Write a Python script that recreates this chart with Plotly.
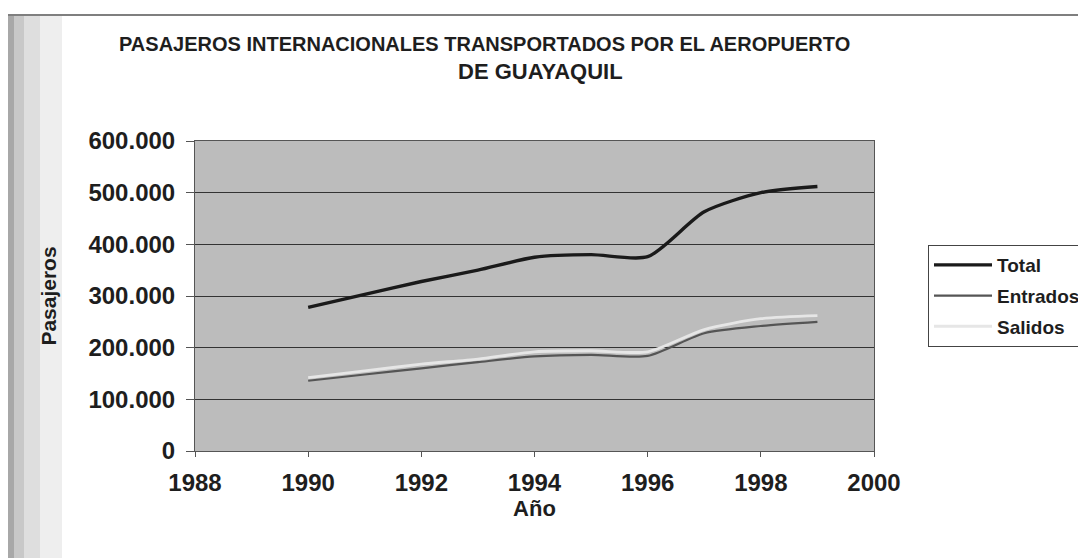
import plotly.graph_objects as go

years = [1990, 1991, 1992, 1993, 1994, 1995, 1996, 1997, 1998, 1999]
total = [278000, 303000, 328000, 350000, 375000, 380000, 376000, 463000, 500000, 512000]
entrados = [136000, 148000, 160000, 172000, 183000, 186000, 184000, 228000, 242000, 250000]
salidos = [142000, 155000, 168000, 178000, 192000, 194000, 192000, 235000, 256000, 262000]

y_ticks = [0, 100000, 200000, 300000, 400000, 500000, 600000]
y_labels = ["0", "100.000", "200.000", "300.000", "400.000", "500.000", "600.000"]
x_ticks = [1988, 1990, 1992, 1994, 1996, 1998, 2000]

title_line1 = "PASAJEROS INTERNACIONALES TRANSPORTADOS POR EL AEROPUERTO"
title_line2 = "DE GUAYAQUIL"

FONT = "Liberation Sans, Arial, sans-serif"
INK = "#1e1e1e"

# plot frame in page pixels (page has an 8px body offset)
OFF = 8
PL, PR, PT, PB = 195, 874, 141, 451
W, H = 1086, 558


def px(sx):
    return (sx - PL) / (PR - PL)


def py(sy):
    return (PB - sy) / (PB - PT)


fig = go.Figure()
fig.add_trace(go.Scatter(x=years, y=total, name="Total", mode="lines", legendgroup="t",
                         line=dict(color="#1a1a1a", width=3.4, shape="spline", smoothing=0.7)))
fig.add_trace(go.Scatter(x=years, y=entrados, name="Entrados", mode="lines", legendgroup="e",
                         line=dict(color="#555555", width=2.2, shape="spline", smoothing=0.7)))
fig.add_trace(go.Scatter(x=years, y=salidos, name="Salidos", mode="lines", legendgroup="s",
                         line=dict(color="#e6e6e6", width=2.8, shape="spline", smoothing=0.7)))

fig.update_layout(
    width=W, height=H,
    margin=dict(l=PL - OFF, r=W - (PR - OFF), t=PT - OFF, b=H - (PB - OFF), autoexpand=False),
    paper_bgcolor="#ffffff",
    plot_bgcolor="#bcbcbc",
    font=dict(family=FONT, color=INK),
    showlegend=True,
    legend=dict(xref="container", yref="container",
                x=(928 - OFF) / W, y=1 - (245 - OFF) / H, xanchor="left", yanchor="top",
                bgcolor="#ffffff", bordercolor="#444444", borderwidth=1,
                font=dict(size=19, family=FONT, color=INK, weight="bold"),
                tracegroupgap=3, itemwidth=58),
    xaxis=dict(range=[1988, 2000], tickvals=x_ticks, ticktext=[str(v) for v in x_ticks],
               showgrid=False, zeroline=False, showline=True, linecolor="#555555", linewidth=1,
               ticks="outside", ticklen=5, tickcolor="#555555", mirror=True, ticklabelstandoff=5,
               automargin=False,
               tickfont=dict(size=24, family=FONT, color=INK, weight="bold"),
               title=dict(text="Año", font=dict(size=22, family=FONT, color=INK, weight="bold"),
                          standoff=4)),
    yaxis=dict(range=[0, 600000], tickvals=y_ticks, ticktext=y_labels,
               showgrid=True, gridcolor="#333333", gridwidth=1, zeroline=False,
               showline=True, linecolor="#555555", linewidth=1, mirror=True,
               ticks="outside", ticklen=8, tickcolor="#555555", ticklabelstandoff=6,
               automargin=False,
               tickfont=dict(size=24, family=FONT, color=INK, weight="bold"),
               title=dict(text="Pasajeros", font=dict(size=21, family=FONT, color=INK, weight="bold"),
                          standoff=26)),
)

fig.add_annotation(text=title_line1, xref="paper", yref="paper", x=px(484), y=py(44),
                   xanchor="center", yanchor="middle", showarrow=False,
                   font=dict(size=20, family=FONT, color=INK, weight="bold"))
fig.add_annotation(text=title_line2, xref="paper", yref="paper", x=px(540), y=py(72),
                   xanchor="center", yanchor="middle", showarrow=False,
                   font=dict(size=22, family=FONT, color=INK, weight="bold"))

# scanned page: top rule and shaded left margin
fig.add_shape(type="line", xref="paper", yref="paper", x0=px(0), x1=px(1100),
              y0=py(15), y1=py(15), line=dict(color="#555555", width=1.5), layer="above")
for x0, x1, c in [(0, 14, "#a8a8a8"), (14, 24, "#c8c8c8"), (24, 40, "#dedede"), (40, 62, "#eeeeee")]:
    fig.add_shape(type="rect", xref="paper", yref="paper", x0=px(x0), x1=px(x1),
                  y0=py(600), y1=py(16), line=dict(width=0), fillcolor=c, layer="below")

fig.write_html("out.html")
